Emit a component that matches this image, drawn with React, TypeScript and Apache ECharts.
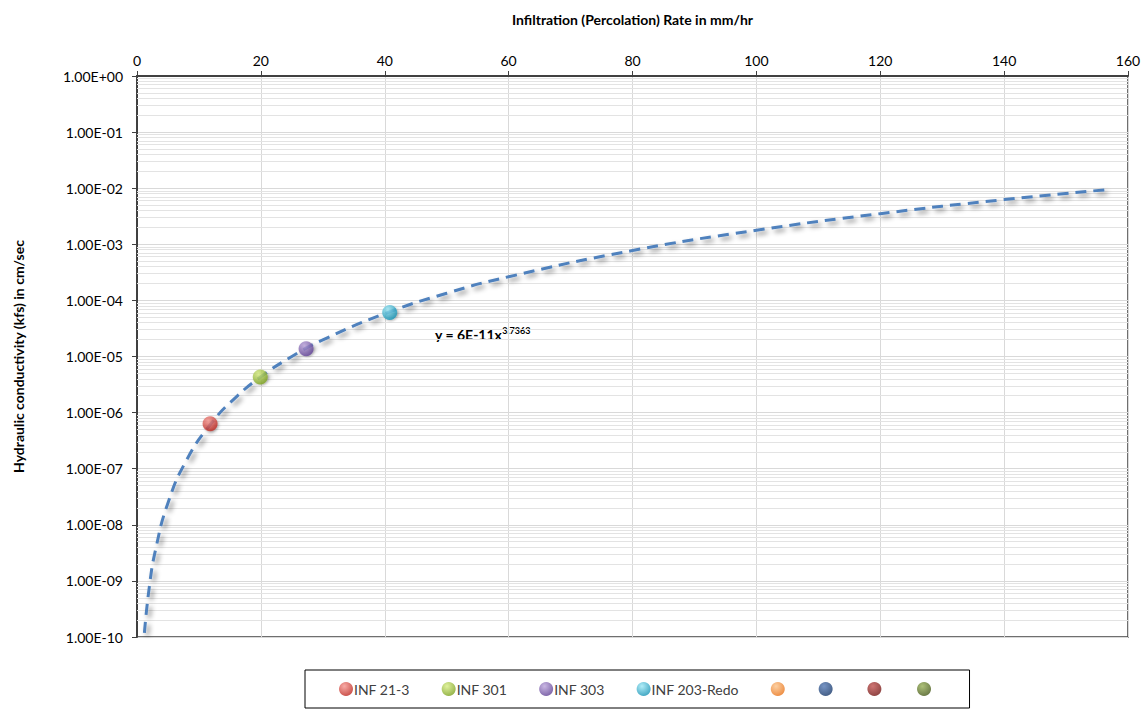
import React, { useEffect, useRef } from "react";
import * as echarts from "echarts";

const xTitle = "Infiltration (Percolation) Rate in mm/hr";
const yTitle = "Hydraulic conductivity (kfs) in cm/sec";

const pointNames = ["INF 21-3", "INF 301", "INF 303", "INF 203-Redo"];
const pointX = [11.8, 19.9, 27.3, 40.8];
const pointY = [6.3e-7, 4.3e-6, 1.38e-5, 6.1e-5];
const pointColors = [
  ["#f6968f", "#bb221b"],
  ["#d8ee84", "#779e1a"],
  ["#bca5dc", "#5c3d92"],
  ["#9de8f6", "#0f8fb2"],
];
// unnamed series of the reference legend (blank labels)
const emptyNames = ["\u200a", "\u200a\u200a", "\u200a\u200a\u200a", "\u200a\u200a\u200a\u200a"];
const emptyColors = [
  ["#fcc48a", "#e86f12"],
  ["#5479b5", "#143566"],
  ["#c25250", "#701412"],
  ["#98b056", "#425516"],
];

// trend line (y = 6E-11x^3.7363)
const trendX = [1.2, 2, 3, 5, 8, 12, 16, 20, 25, 30, 40, 50, 60, 80, 100, 120, 140, 156.4];
const trendY = [
  1.19e-10, 8.0e-10, 3.6e-9, 2.45e-8, 1.42e-7, 6.46e-7, 1.89e-6, 4.36e-6, 1.0e-5, 1.98e-5,
  5.81e-5, 1.34e-4, 2.64e-4, 7.74e-4, 1.78e-3, 3.52e-3, 6.26e-3, 9.38e-3,
];

const xMin = 0;
const xMax = 160;
const decadeMin = -10;
const decadeMax = 0;
const minorMultipliers = [2, 3, 4, 5, 6, 7, 8, 9];

const FONT = "Lato";

function ball(c: string[]) {
  return new echarts.graphic.RadialGradient(0.38, 0.3, 0.75, [
    { offset: 0, color: c[0] },
    { offset: 1, color: c[1] },
  ]);
}

function fmtExp(v: number) {
  const s = v.toExponential(2).toUpperCase();
  const [m, e] = s.split("E");
  const sign = e[0] === "-" ? "-" : "+";
  const d = e.replace(/[+-]/, "").padStart(2, "0");
  return `${m}E${sign}${d}`;
}

export default function App() {
  const ref = useRef<HTMLDivElement>(null);
  useEffect(() => {
    const chart = echarts.init(ref.current!, null, { renderer: "svg" });
    const minorLines: any[] = [];
    for (let k = decadeMin; k < decadeMax; k++) {
      for (const d of minorMultipliers) {
        const v = d * Math.pow(10, k);
        minorLines.push({ coords: [[xMin, v], [xMax, v]] });
      }
    }
    const series: any[] = [
      {
        name: "minor",
        type: "lines",
        coordinateSystem: "cartesian2d",
        data: minorLines,
        silent: true,
        lineStyle: { color: "#e3e3e3", width: 1, opacity: 1, curveness: 0 },
        z: 1,
      },
      {
        name: "trend",
        type: "line",
        data: trendX.map((x, i) => [x, trendY[i]]),
        smooth: true,
        showSymbol: false,
        symbol: "none",
        lineStyle: {
          color: "#4f81bd",
          width: 3,
          type: [11, 7],
          shadowColor: "rgba(0,0,0,0.45)",
          shadowBlur: 5,
          shadowOffsetX: 3,
          shadowOffsetY: 3,
        },
        z: 3,
        silent: true,
      },
    ];
    pointNames.forEach((n, i) => {
      series.push({
        name: n,
        type: "scatter",
        data: [[pointX[i], pointY[i]]],
        symbolSize: 15,
        itemStyle: {
          color: ball(pointColors[i]),
          shadowColor: "rgba(0,0,0,0.3)",
          shadowBlur: 2,
          shadowOffsetX: 1,
          shadowOffsetY: 1,
        },
        z: 5,
      });
    });
    emptyNames.forEach((n, i) => {
      series.push({
        name: n,
        type: "scatter",
        data: [],
        itemStyle: { color: ball(emptyColors[i]) },
      });
    });

    chart.setOption({
      animation: false,
      backgroundColor: "#ffffff",
      textStyle: { fontFamily: FONT },
      grid: {
        left: 137,
        right: 20,
        top: 76,
        bottom: 76,
        show: true,
        borderColor: "#404040",
        borderWidth: 1.5,
      },
      xAxis: {
        type: "value",
        position: "top",
        min: xMin,
        max: xMax,
        interval: 20,
        name: xTitle,
        nameLocation: "middle",
        nameGap: 50,
        nameTextStyle: { fontFamily: FONT, fontWeight: "bold", fontSize: 14, color: "#000" },
        axisLine: { show: true, lineStyle: { color: "#404040", width: 2 } },
        axisTick: { show: true, inside: false, length: 5, lineStyle: { color: "#404040" } },
        axisLabel: { fontFamily: FONT, fontSize: 14, color: "#000", margin: 9 },
        splitLine: { show: true, lineStyle: { color: "#d9d9d9", width: 1 } },
      },
      yAxis: {
        type: "log",
        logBase: 10,
        min: Math.pow(10, decadeMin),
        max: Math.pow(10, decadeMax),
        interval: 1,
        name: yTitle,
        nameLocation: "middle",
        nameGap: 112,
        nameTextStyle: { fontFamily: FONT, fontWeight: "bold", fontSize: 14, color: "#000" },
        axisLine: { show: true, lineStyle: { color: "#404040", width: 2 } },
        axisTick: { show: true, inside: false, length: 5, lineStyle: { color: "#404040" } },
        axisLabel: {
          fontFamily: FONT,
          fontSize: 14,
          color: "#000",
          margin: 14,
          formatter: (v: number) => fmtExp(v),
        },
        splitLine: { show: true, lineStyle: { color: "#d9d9d9", width: 1 } },
      },
      legend: {
        data: [...pointNames, ...emptyNames],
        left: 305,
        bottom: 5,
        padding: [12, 34, 12, 34],
        borderColor: "#000",
        borderWidth: 1,
        itemGap: 32,
        itemWidth: 14,
        itemHeight: 14,
        icon: "circle",
        textStyle: { fontFamily: FONT, fontSize: 14, color: "#404040", padding: [0, 0, 0, -4] },
      },
      graphic: [
        {
          type: "text",
          left: 435,
          top: 326,
          style: {
            text: "{a|y = 6E-11x}{s|3.7363}",
            rich: {
              a: { fontFamily: FONT, fontWeight: "bold", fontSize: 14, fill: "#000" },
              s: {
                fontFamily: FONT,
                fontWeight: "bold",
                fontSize: 9,
                fill: "#000",
                verticalAlign: "top",
                padding: [0, 0, 8, 0],
              },
            },
          },
        },
      ],
      series,
    });
    return () => chart.dispose();
  }, []);
  return (
    <div
      ref={ref}
      style={{ position: "fixed", left: 0, top: 0, width: 1148, height: 713 }}
    />
  );
}
